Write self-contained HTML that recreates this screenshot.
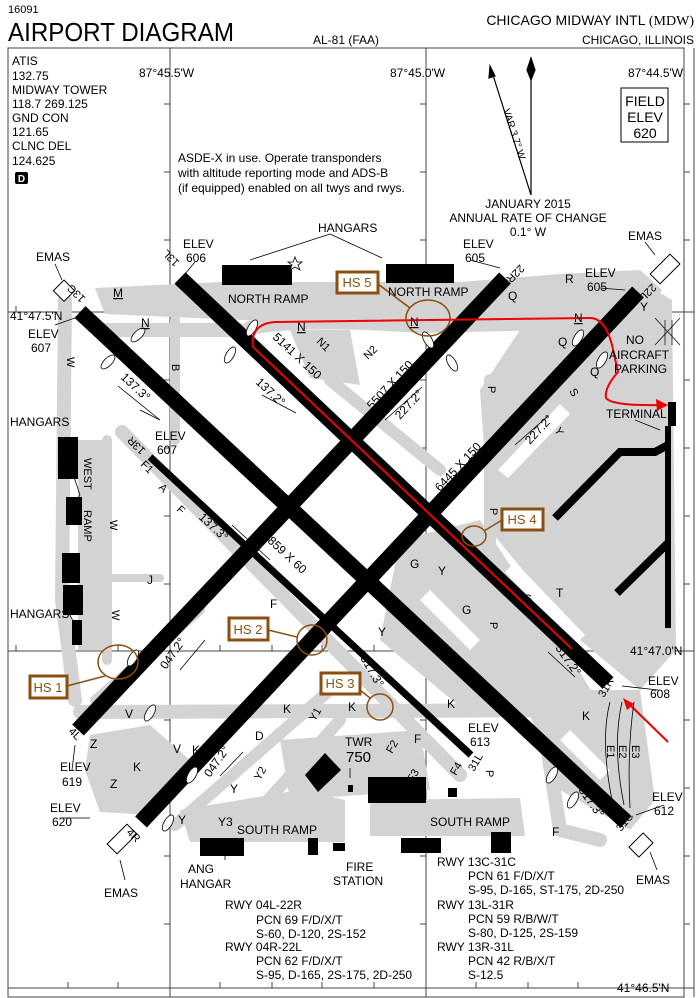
<!DOCTYPE html>
<html><head><meta charset="utf-8"><style>
html,body{margin:0;padding:0;background:#fff;}
svg{display:block;font-family:"Liberation Sans",sans-serif;}
</style></head><body>
<svg width="700" height="998" viewBox="0 0 700 998" xmlns="http://www.w3.org/2000/svg">
<rect width="700" height="998" fill="#fff"/>
<!-- header -->
<text x="8" y="13" font-size="11">16091</text>
<text x="8" y="41" font-size="26" textLength="226" lengthAdjust="spacingAndGlyphs">AIRPORT DIAGRAM</text>
<text x="313" y="44" font-size="12">AL-81 (FAA)</text>
<text x="694" y="25" font-size="14" text-anchor="end">CHICAGO MIDWAY INTL <tspan font-family="Liberation Serif">(MDW)</tspan></text>
<text x="694" y="44" font-size="12" text-anchor="end">CHICAGO, ILLINOIS</text>

<!-- frame and grid -->
<g stroke="#444" stroke-width="1" fill="none">
<rect x="8" y="48" width="676" height="949"/>
<line x1="694" y1="48" x2="694" y2="997"/>
<line x1="170" y1="48" x2="170" y2="997"/>
<line x1="426" y1="48" x2="426" y2="997"/>
<line x1="8" y1="312" x2="694" y2="312"/>
<line x1="8" y1="651" x2="694" y2="651"/>
<line x1="8" y1="988" x2="694" y2="988"/>
<path d="M164,104h6M164,172h6M164,240h6M164,380h6M164,448h6M164,516h6M164,584h6M164,720h6M164,788h6M164,856h6M164,924h6
M420,104h6M420,172h6M420,240h6M420,380h6M420,448h6M420,516h6M420,584h6M420,720h6M420,788h6M420,856h6M420,924h6
M684,104h6M684,172h6M684,240h6M684,380h6M684,448h6M684,516h6M684,584h6M684,720h6M684,788h6M684,856h6M684,924h6
M16,306v6M68,306v6M118,306v6M220,306v6M272,306v6M322,306v6M374,306v6M476,306v6M528,306v6M578,306v6M630,306v6
M16,645v6M68,645v6M118,645v6M220,645v6M272,645v6M322,645v6M374,645v6M476,645v6M528,645v6M578,645v6
M68,982v6M118,982v6M220,982v6M272,982v6M322,982v6M374,982v6M476,982v6M528,982v6M578,982v6"/>
</g>

<!-- left column -->
<g font-size="12">
<text x="12" y="65">ATIS</text>
<text x="12" y="80">132.75</text>
<text x="12" y="94">MIDWAY TOWER</text>
<text x="12" y="108">118.7 269.125</text>
<text x="12" y="122">GND CON</text>
<text x="12" y="136">121.65</text>
<text x="12" y="150">CLNC DEL</text>
<text x="12" y="165">124.625</text>
</g>
<rect x="15" y="172" width="13" height="12" rx="2" fill="#000"/>
<text x="21.5" y="182" font-size="10" fill="#fff" text-anchor="middle" font-weight="bold">D</text>

<g font-size="12">
<text x="139" y="77">87°45.5'W</text>
<text x="390" y="77">87°45.0'W</text>
<text x="628" y="77">87°44.5'W</text>
<text x="178" y="162">ASDE-X in use. Operate transponders</text>
<text x="178" y="177">with altitude reporting mode and ADS-B</text>
<text x="178" y="192">(if equipped) enabled on all twys and rwys.</text>
<text x="528" y="208" text-anchor="middle">JANUARY 2015</text>
<text x="528" y="222" text-anchor="middle">ANNUAL RATE OF CHANGE</text>
<text x="528" y="236" text-anchor="middle">0.1°  W</text>
</g>
<!-- north arrow -->
<g stroke="#000" stroke-width="1.2" fill="#000">
<line x1="531" y1="70" x2="531" y2="195"/>
<path d="M531,58 L527,70 L531,80 L535,70Z"/>
<line x1="531" y1="195" x2="492" y2="72"/>
<path d="M490,66 L489,78 L495,76Z"/>
</g>
<text transform="translate(503,110) rotate(72)" font-size="10">VAR 3.7° W</text>
<rect x="621" y="88" width="47" height="54" fill="none" stroke="#000"/>
<g font-size="14" text-anchor="middle"><text x="645" y="106">FIELD</text><text x="645" y="122">ELEV</text><text x="645" y="138">620</text></g>

<!-- gray taxiways -->
<g fill="#d3d3d3" stroke="none">
<polygon points="95,288 220,282 460,282 560,274 640,270 662,290 650,312 600,318 450,330 240,320 105,314"/>
<polygon points="290,330 350,330 360,385 310,378"/>
<polygon points="480,390 520,330 560,292 630,275 672,300 676,650 640,690 580,640 490,530"/>
<polygon points="400,540 480,520 560,640 600,705 470,715 380,640"/>
<polygon points="520,690 640,690 655,800 630,830 560,790"/>
<polygon points="90,735 150,725 190,760 150,815 100,812 85,770"/>
<polygon points="180,810 300,790 345,800 345,842 190,842"/>
<polygon points="370,800 520,798 525,836 370,836"/>
<polygon points="280,740 420,730 430,790 290,800"/>
<rect x="78" y="440" width="24" height="210"/>
</g>
<g stroke="#d3d3d3" fill="none" stroke-linecap="round" stroke-linejoin="round">
<path d="M100,330 L240,330" stroke-width="14"/>
<path d="M250,328 Q300,318 420,326 L600,322" stroke-width="14"/>
<path d="M65,300 L62,600 L75,700" stroke-width="14"/>
<path d="M107,440 L107,660" stroke-width="10"/>
<path d="M62,578 L160,578" stroke-width="8"/>
<path d="M122,432 L460,775" stroke-width="14"/>
<path d="M175,320 L175,440" stroke-width="10"/>
<path d="M80,712 L610,710" stroke-width="14"/>
<path d="M175,825 L330,690" stroke-width="12"/>
<path d="M250,820 L340,720" stroke-width="12"/>
<path d="M490,380 L490,700" stroke-width="12"/>
<path d="M540,700 L560,830 L600,840" stroke-width="14"/>
<path d="M95,700 L200,610" stroke-width="10"/>
<path d="M330,380 L440,470" stroke-width="12"/>
</g>
<!-- white islands -->
<g fill="#fff">
<polygon points="498,470 508,478 570,414 560,404"/>
<polygon points="505,572 575,645 585,635 515,562"/>
<polygon points="420,600 470,650 480,640 430,590"/>
<polygon points="560,740 600,780 610,770 570,730"/>
</g>

<!-- runways -->
<g stroke="#000" stroke-linecap="butt">
<line x1="80" y1="312" x2="626" y2="822" stroke-width="16"/>
<line x1="180" y1="278" x2="608" y2="683" stroke-width="16"/>
<line x1="150" y1="457" x2="471" y2="755" stroke-width="7"/>
<line x1="78" y1="730" x2="505" y2="278" stroke-width="16"/>
<line x1="141" y1="822" x2="638" y2="292" stroke-width="16"/>
</g>

<!-- buildings -->
<g fill="#000">
<rect x="222" y="265" width="70" height="20"/>
<rect x="386" y="264" width="68" height="19"/>
<rect x="58" y="437" width="20" height="42"/>
<rect x="66" y="497" width="16" height="28"/>
<rect x="62" y="553" width="18" height="30"/>
<rect x="63" y="585" width="20" height="30"/>
<rect x="72" y="620" width="10" height="25"/>
<polygon points="305,775 325,753 341,770 318,792"/>
<rect x="368" y="777" width="58" height="26"/>
<rect x="448" y="788" width="9" height="9"/>
<rect x="348" y="785" width="5" height="7"/>
<rect x="200" y="838" width="44" height="18"/>
<rect x="308" y="838" width="10" height="17"/>
<rect x="333" y="843" width="12" height="8"/>
<rect x="401" y="838" width="40" height="15"/>
<rect x="491" y="832" width="20" height="21"/>
<rect x="668" y="402" width="8" height="24"/>
<rect x="665" y="426" width="6" height="202"/>
</g>
<g stroke="#000" fill="none" stroke-width="8" stroke-linejoin="miter">
<path d="M668,445 L655,452 L620,452 L555,518"/>
<path d="M668,543 L617,593"/>
</g>

<!-- hold ovals -->
<g fill="#fff" stroke="#000" stroke-width="0.8">
<ellipse cx="138" cy="335" rx="4" ry="9" transform="rotate(45 138 335)"/>
<ellipse cx="108" cy="362" rx="4" ry="9" transform="rotate(45 108 362)"/>
<ellipse cx="230" cy="355" rx="4" ry="9" transform="rotate(30 230 355)"/>
<ellipse cx="252" cy="328" rx="4" ry="9" transform="rotate(30 252 328)"/>
<ellipse cx="428" cy="340" rx="4" ry="9" transform="rotate(-30 428 340)"/>
<ellipse cx="452" cy="363" rx="4" ry="9" transform="rotate(-30 452 363)"/>
<ellipse cx="578" cy="338" rx="4" ry="9" transform="rotate(30 578 338)"/>
<ellipse cx="602" cy="360" rx="4" ry="9" transform="rotate(30 602 360)"/>
<ellipse cx="133" cy="658" rx="4" ry="9" transform="rotate(30 133 658)"/>
<ellipse cx="150" cy="713" rx="4" ry="9" transform="rotate(30 150 713)"/>
<ellipse cx="168" cy="823" rx="4" ry="9" transform="rotate(30 168 823)"/>
<ellipse cx="192" cy="775" rx="4" ry="9" transform="rotate(30 192 775)"/>
<ellipse cx="573" cy="800" rx="4" ry="9" transform="rotate(30 573 800)"/>
<ellipse cx="552" cy="775" rx="4" ry="9" transform="rotate(30 552 775)"/>
</g>

<!-- red route -->
<g stroke="#e00" stroke-width="2" fill="none">
<path d="M253,347 L572,649"/>
<path d="M253,347 Q250,324 275,322 L590,318 Q605,318 612,345 L618,372 Q604,388 606,398 Q612,406 660,405"/>
<path d="M668,742 L627,702"/>
</g>
<path d="M668,405 L656,399 L657,411Z" fill="#e00"/>
<path d="M623,698 L627,710 L634,704Z" fill="#e00"/>

<!-- hot spots -->
<g stroke="#8b4f12" stroke-width="1.5" fill="none">
<ellipse cx="428" cy="318" rx="22" ry="18"/><line x1="378" y1="284" x2="410" y2="308"/>
<ellipse cx="474" cy="536" rx="12" ry="10"/><line x1="484" y1="531" x2="502" y2="520"/>
<ellipse cx="312" cy="640" rx="15" ry="15"/><line x1="268" y1="630" x2="297" y2="637"/>
<ellipse cx="380" cy="707" rx="13" ry="13"/><line x1="360" y1="690" x2="370" y2="698"/>
<ellipse cx="118" cy="662" rx="20" ry="17"/><line x1="67" y1="686" x2="105" y2="676"/>
</g>
<g stroke="#8b4f12" stroke-width="3" fill="#fff">
<rect x="337" y="272" width="41" height="21"/>
<rect x="502" y="509" width="41" height="21"/>
<rect x="229" y="618" width="39" height="22"/>
<rect x="321" y="673" width="39" height="21"/>
<rect x="30" y="676" width="37" height="22"/>
</g>
<g fill="#8b4f12" font-size="13" text-anchor="middle">
<text x="357" y="287">HS 5</text><text x="522" y="524">HS 4</text><text x="248" y="634">HS 2</text><text x="340" y="688">HS 3</text><text x="48" y="692">HS 1</text>
</g>

<!-- EMAS boxes -->
<g fill="#fff" stroke="#000" stroke-width="1">
<rect x="57" y="283" width="15" height="15" transform="rotate(45 64 290)"/>
<rect x="651" y="262" width="28" height="14" transform="rotate(-45 665 269)"/>
<rect x="108" y="832" width="28" height="14" transform="rotate(-45 122 839)"/>
<rect x="634" y="835" width="14" height="20" transform="rotate(45 641 845)"/>
</g>

<!-- pointers -->
<g stroke="#000" stroke-width="0.8" fill="none">
<path d="M55,264 L62,280M195,262 L185,274M330,234 L250,260M330,234 L382,258M55,325 L75,318M470,260 L500,268M600,288 L625,290M645,242 L655,255M635,420 L660,430M658,690 L622,686M664,805 L636,815M657,870 L650,852M125,880 L120,860M72,770 L75,745M60,818 L90,818M225,860 L225,845M350,778 L350,768M140,410 L160,420"/>
<path d="M80,495 L65,450M80,495 L70,507M65,605 L72,585M65,605 L75,625"/>
<path d="M118,386 L160,420M262,395 L296,413M232,525 L270,560M422,387 L385,420M548,416 L515,445M355,648 L388,675M548,652 L575,677M572,782 L598,805M205,640 L180,670M243,752 L220,776"/>
<path d="M610,702 Q600,740 612,800M622,702 Q612,745 624,805M634,702 Q627,750 630,808"/>
</g>
<path d="M293,262 l2,-5 l2,5 l5,0 l-4,3 l2,5 l-5,-3 l-5,3 l2,-5 l-4,-3Z" fill="#fff" stroke="#000" stroke-width="0.8"/>
<path d="M655,318 L680,345M680,318 L655,345M665,320 L665,345M672,320 L672,345" stroke="#000" stroke-width="0.7"/>

<!-- labels -->
<g font-size="12">
<text x="36" y="261">EMAS</text>
<text x="183" y="248">ELEV</text><text x="186" y="262">606</text>
<text x="10" y="320">41°47.5'N</text>
<text x="28" y="338">ELEV</text><text x="31" y="352">607</text>
<text x="318" y="232">HANGARS</text>
<text x="228" y="303">NORTH RAMP</text>
<text x="388" y="296">NORTH RAMP</text>
<text x="463" y="248">ELEV</text><text x="465" y="262">605</text>
<text x="585" y="277">ELEV</text><text x="587" y="291">605</text>
<text x="628" y="240">EMAS</text>
<text x="565" y="283">R</text><text x="508" y="300">Q</text>
<text x="626" y="344">NO</text><text x="609" y="359">AIRCRAFT</text><text x="614" y="373">PARKING</text>
<text x="606" y="418">TERMINAL</text>
<text x="10" y="426">HANGARS</text>
<text x="155" y="440">ELEV</text><text x="157" y="454">607</text>
<text x="10" y="618">HANGARS</text>
<text x="147" y="584">J</text>
<text x="630" y="655">41°47.0'N</text>
<text x="648" y="685">ELEV</text><text x="650" y="698">608</text>
<text x="652" y="801">ELEV</text><text x="654" y="815">612</text>
<text x="636" y="884">EMAS</text>
<text x="468" y="732">ELEV</text><text x="470" y="746">613</text>
<text x="60" y="771">ELEV</text><text x="62" y="786">619</text>
<text x="50" y="812">ELEV</text><text x="52" y="826">620</text>
<text x="104" y="897">EMAS</text>
<text x="345" y="746">TWR</text>
<text x="346" y="762" font-size="15">750</text>
<text x="237" y="834">SOUTH RAMP</text>
<text x="430" y="826">SOUTH RAMP</text>
<text x="188" y="873">ANG</text><text x="180" y="888">HANGAR</text>
<text x="346" y="871">FIRE</text><text x="333" y="885">STATION</text>
<text x="617" y="992" fill="#000">41°46.5'N</text>
<!-- taxi letters -->
<text x="113" y="297" text-decoration="underline">M</text>
<text x="141" y="327" text-decoration="underline">N</text>
<text x="297" y="331" text-decoration="underline">N</text>
<text x="410" y="326" text-decoration="underline">N</text>
<text x="574" y="322" text-decoration="underline">N</text>
<text x="558" y="346">Q</text><text x="590" y="376">Q</text><text x="640" y="311">Y</text>
<text x="410" y="568">G</text><text x="438" y="575">Y</text><text x="462" y="614">G</text><text x="378" y="636">Y</text>
<text x="523" y="603">G</text><text x="556" y="597">T</text><text x="270" y="608">F</text>
<text x="582" y="720">K</text><text x="447" y="708">K</text><text x="348" y="711">K</text><text x="283" y="713">K</text><text x="192" y="754">K</text><text x="133" y="771">K</text>
<text x="125" y="718">V</text><text x="173" y="753">V</text>
<text x="90" y="748">Z</text><text x="110" y="788">Z</text>
<text x="178" y="824">Y</text><text x="218" y="826">Y3</text><text x="230" y="793">Y</text><text x="255" y="740">D</text>
<text x="552" y="836">F</text><text x="414" y="743">F</text>
</g>
<g font-size="11">
<text transform="translate(67,357) rotate(90)">W</text>
<text transform="translate(110,520) rotate(90)">W</text>
<text transform="translate(112,610) rotate(90)">W</text>
<text transform="translate(84,458) rotate(90)">WEST</text>
<text transform="translate(84,510) rotate(90)">RAMP</text>
<text transform="translate(172,364) rotate(90)">B</text>
<text transform="translate(488,386) rotate(90)">P</text>
<text transform="translate(490,508) rotate(90)">P</text>
<text transform="translate(490,622) rotate(90)">P</text>
<text transform="translate(486,770) rotate(90)">P</text>
<text transform="translate(569,391) rotate(60)">S</text>
<text transform="translate(554,430) rotate(60)">Y</text>
<text transform="translate(316,342) rotate(45)">N1</text>
<text transform="translate(368,360) rotate(-45)">N2</text>
<text transform="translate(140,465) rotate(45)">F1</text>
<text transform="translate(158,488) rotate(45)">A</text>
<text transform="translate(176,510) rotate(45)">F</text>
<text transform="translate(392,754) rotate(-60)">F2</text>
<text transform="translate(413,783) rotate(-60)">F3</text>
<text transform="translate(456,776) rotate(-60)">F4</text>
<text transform="translate(315,722) rotate(-60)">Y1</text>
<text transform="translate(260,781) rotate(-60)">Y2</text>
<text transform="translate(607,745) rotate(90)">E1</text>
<text transform="translate(619,745) rotate(90)">E2</text>
<text transform="translate(632,745) rotate(90)">E3</text>
<text transform="translate(180,262) rotate(225)">13L</text>
<text transform="translate(86,298) rotate(225)">13C</text>
<text transform="translate(146,450) rotate(225)">13R</text>
<text transform="translate(520,264) rotate(135)">22R</text>
<text transform="translate(652,283) rotate(135)">22L</text>
<text transform="translate(604,698) rotate(-60)">31R</text>
<text transform="translate(621,832) rotate(-50)">31C</text>
<text transform="translate(474,772) rotate(-60)">31L</text>
<text transform="translate(68,732) rotate(45)">4L</text>
<text transform="translate(126,833) rotate(45)">4R</text>
</g>
<g font-size="12">
<text transform="translate(272,338) rotate(43)">5141 X 150</text>
<text transform="translate(255,383) rotate(43)">137.2°</text>
<text transform="translate(120,378) rotate(43)">137.3°</text>
<text transform="translate(212,440) rotate(43)">6522 X 150</text>
<text transform="translate(198,518) rotate(43)">137.3°</text>
<text transform="translate(262,537) rotate(43)">3859 X 60</text>
<text transform="translate(360,658) rotate(60)">317.3°</text>
<text transform="translate(555,648) rotate(55)">317.2°</text>
<text transform="translate(578,790) rotate(55)">317.3°</text>
<text transform="translate(372,410) rotate(-47)">5507 X 150</text>
<text transform="translate(400,420) rotate(-47)">227.2°</text>
<text transform="translate(440,492) rotate(-47)">6445 X 150</text>
<text transform="translate(530,445) rotate(-47)">227.2°</text>
<text transform="translate(166,670) rotate(-55)">047.2°</text>
<text transform="translate(210,778) rotate(-55)">047.2°</text>
</g>

<!-- tables -->
<g font-size="12">
<text x="225" y="909">RWY 04L-22R</text>
<text x="256" y="924">PCN 69 F/D/X/T</text>
<text x="256" y="938">S-60, D-120, 2S-152</text>
<text x="225" y="951">RWY 04R-22L</text>
<text x="256" y="965">PCN 62 F/D/X/T</text>
<text x="256" y="979">S-95, D-165, 2S-175, 2D-250</text>
<text x="437" y="866">RWY 13C-31C</text>
<text x="468" y="880">PCN 61 F/D/X/T</text>
<text x="468" y="894">S-95, D-165, ST-175, 2D-250</text>
<text x="437" y="909">RWY 13L-31R</text>
<text x="468" y="923">PCN 59 R/B/W/T</text>
<text x="468" y="937">S-80, D-125, 2S-159</text>
<text x="437" y="951">RWY 13R-31L</text>
<text x="468" y="965">PCN 42 R/B/X/T</text>
<text x="468" y="979">S-12.5</text>
</g>
</svg>
</body></html>
